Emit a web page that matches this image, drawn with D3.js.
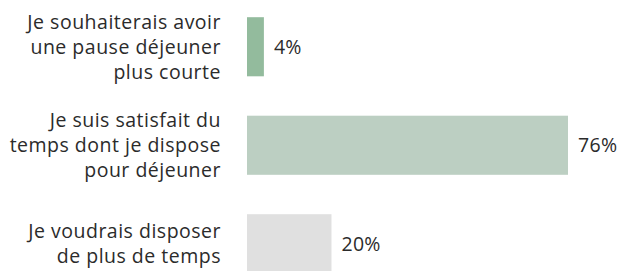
<!DOCTYPE html>
<html>
<head>
<meta charset="utf-8">
<script src="https://cdn.jsdelivr.net/npm/d3@7"></script>
<style>
  body { margin: 0; background: #fff; }
  svg { display: block; }
</style>
</head>
<body>
<div id="chart"></div>
<script>
// data
const categories = [
  ["Je souhaiterais avoir", "une pause déjeuner", "plus courte"],
  ["Je suis satisfait du", "temps dont je dispose", "pour déjeuner"],
  ["Je voudrais disposer", "de plus de temps"]
];
const values = [4, 76, 20];
const valueLabels = ["4%", "76%", "20%"];
const barColors = ["#93bb9d", "#bccfc2", "#e0e0e0"];

const width = 622, height = 271;
const svg = d3.select("#chart").append("svg")
  .attr("width", width)
  .attr("height", height);

const ids = categories.map((d, i) => i);

const x = d3.scaleLinear()
  .domain([0, 76])
  .range([247, 568]);

const y = d3.scaleBand()
  .domain(ids)
  .range([-2.5, 293])
  .paddingInner(0.4)
  .paddingOuter(0.2);

const font = "'Open Sans', sans-serif";
const fontSize = "19.5px";

// bars
svg.selectAll("rect.bar")
  .data(values)
  .join("rect")
    .attr("class", "bar")
    .attr("x", x(0))
    .attr("y", (d, i) => y(i))
    .attr("width", d => x(d) - x(0))
    .attr("height", y.bandwidth())
    .attr("fill", (d, i) => barColors[i]);

// value labels
svg.selectAll("text.val")
  .data(values)
  .join("text")
    .attr("class", "val")
    .attr("x", d => x(d) + 10)
    .attr("y", (d, i) => y(i) + y.bandwidth() / 2)
    .attr("dy", "0.35em")
    .style("font-family", font)
    .style("font-size", fontSize)
    .style("letter-spacing", "0.3px")
    .style("fill", "#2b2b2b")
    .text((d, i) => valueLabels[i]);

// category labels (multi line, right aligned)
const lineH = 25;
svg.selectAll("g.cat")
  .data(categories)
  .join("g")
    .attr("class", "cat")
  .each(function(lines, i) {
    const cy = y(i) + y.bandwidth() / 2;
    const top = cy - (lines.length - 1) * lineH / 2;
    d3.select(this).selectAll("text")
      .data(lines)
      .join("text")
        .attr("x", 221)
        .attr("y", (l, j) => top + j * lineH)
        .attr("dy", "0.35em")
        .attr("text-anchor", "end")
        .style("font-family", font)
        .style("font-size", fontSize)
        .style("letter-spacing", "0.5px")
        .style("fill", "#2b2b2b")
        .text(l => l);
  });
</script>
</body>
</html>
